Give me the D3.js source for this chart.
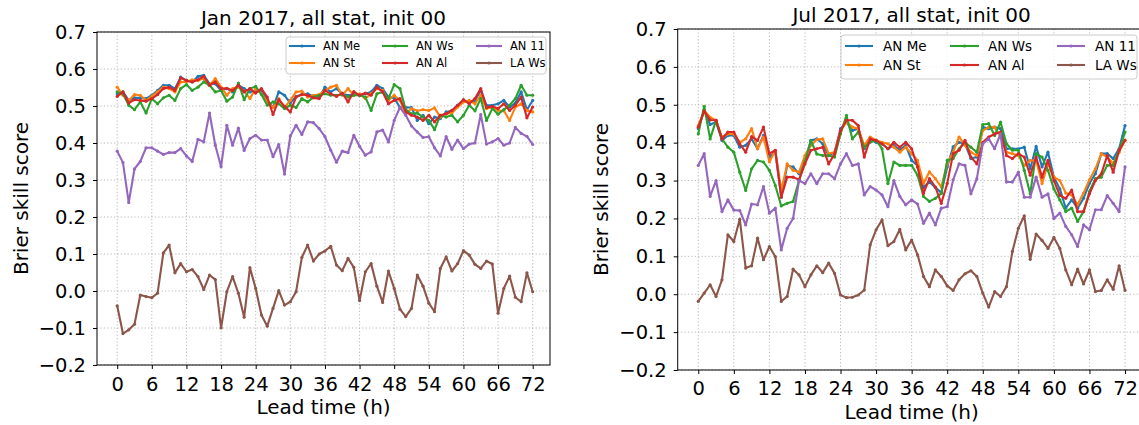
<!DOCTYPE html>
<html><head><meta charset="utf-8">
<script src="https://cdnjs.cloudflare.com/ajax/libs/d3/7.8.5/d3.min.js"></script>
<style>body{margin:0;background:#fff;} svg{display:block;font-family:"DejaVu Sans",sans-serif;}</style>
</head><body><svg id="c" width="1139" height="425"></svg>
<script>
// ---------------- data ----------------
const leadTimes = [0,1,2,3,4,5,6,7,8,9,10,11,12,13,14,15,16,17,18,19,20,21,22,23,24,25,26,27,28,29,30,31,32,33,34,35,36,37,38,39,40,41,42,43,44,45,46,47,48,49,50,51,52,53,54,55,56,57,58,59,60,61,62,63,64,65,66,67,68,69,70,71,72];
const seriesNames = ["AN Me","AN St","AN Ws","AN Al","AN 11","LA Ws"];
const seriesColors = ["#1f77b4","#ff7f0e","#2ca02c","#d62728","#9467bd","#8c564b"];
const xTicks = [0,6,12,18,24,30,36,42,48,54,60,66,72];
const yTicks = [-0.2,-0.1,0.0,0.1,0.2,0.3,0.4,0.5,0.6,0.7];
const titles = ["Jan 2017, all stat, init 00","Jul 2017, all stat, init 00"];
const xLabel = "Lead time (h)";
const yLabel = "Brier skill score";

// January
const janMe = [0.533,0.538,0.515,0.522,0.522,0.52,0.529,0.542,0.556,0.556,0.547,0.578,0.569,0.565,0.58,0.583,0.56,0.56,0.542,0.547,0.538,0.556,0.547,0.538,0.542,0.542,0.515,0.496,0.538,0.529,0.508,0.526,0.531,0.533,0.526,0.522,0.551,0.538,0.547,0.533,0.529,0.531,0.529,0.533,0.538,0.556,0.547,0.524,0.522,0.496,0.496,0.496,0.461,0.475,0.452,0.47,0.466,0.484,0.487,0.502,0.515,0.511,0.515,0.542,0.502,0.502,0.506,0.515,0.497,0.508,0.538,0.49,0.515];
const janSt = [0.551,0.529,0.515,0.531,0.529,0.515,0.526,0.538,0.551,0.547,0.538,0.565,0.565,0.571,0.569,0.574,0.556,0.574,0.551,0.529,0.547,0.551,0.54,0.52,0.547,0.533,0.511,0.496,0.52,0.496,0.515,0.538,0.54,0.524,0.529,0.531,0.542,0.551,0.556,0.529,0.547,0.529,0.533,0.52,0.533,0.547,0.542,0.515,0.529,0.515,0.479,0.493,0.487,0.49,0.488,0.495,0.47,0.479,0.481,0.497,0.511,0.515,0.506,0.529,0.493,0.496,0.488,0.487,0.461,0.497,0.506,0.488,0.484];
const janWs = [0.538,0.533,0.502,0.49,0.511,0.481,0.52,0.506,0.522,0.529,0.515,0.547,0.558,0.542,0.551,0.565,0.556,0.538,0.542,0.513,0.524,0.562,0.517,0.547,0.553,0.531,0.502,0.511,0.506,0.493,0.502,0.496,0.52,0.511,0.524,0.529,0.533,0.529,0.529,0.531,0.524,0.529,0.529,0.524,0.488,0.533,0.538,0.52,0.558,0.547,0.49,0.479,0.481,0.47,0.461,0.436,0.475,0.47,0.475,0.457,0.475,0.502,0.487,0.52,0.461,0.493,0.478,0.49,0.502,0.52,0.556,0.529,0.529];
const janAl = [0.526,0.538,0.508,0.517,0.515,0.513,0.52,0.531,0.547,0.551,0.542,0.576,0.569,0.565,0.571,0.58,0.556,0.565,0.547,0.548,0.542,0.556,0.538,0.547,0.535,0.547,0.524,0.477,0.517,0.499,0.484,0.524,0.531,0.529,0.522,0.52,0.542,0.533,0.526,0.535,0.511,0.539,0.529,0.535,0.529,0.551,0.538,0.506,0.515,0.52,0.484,0.475,0.47,0.461,0.475,0.457,0.475,0.479,0.488,0.502,0.517,0.506,0.52,0.547,0.496,0.499,0.493,0.506,0.488,0.502,0.524,0.468,0.497];
const jan11 = [0.378,0.347,0.239,0.33,0.35,0.387,0.387,0.378,0.369,0.374,0.374,0.385,0.365,0.35,0.41,0.403,0.481,0.394,0.336,0.448,0.394,0.44,0.38,0.412,0.421,0.408,0.408,0.363,0.396,0.316,0.419,0.448,0.423,0.457,0.455,0.439,0.417,0.381,0.348,0.378,0.374,0.421,0.391,0.367,0.376,0.43,0.435,0.403,0.461,0.496,0.475,0.446,0.43,0.415,0.417,0.387,0.365,0.417,0.383,0.408,0.385,0.397,0.4,0.477,0.397,0.403,0.412,0.394,0.4,0.442,0.426,0.418,0.396];
const janLA = [-0.04,-0.115,-0.105,-0.09,-0.011,-0.015,-0.018,-0.006,0.103,0.124,0.049,0.074,0.052,0.058,0.039,0.004,0.043,0.031,-0.1,-0.002,0.039,-0.006,-0.071,0.063,0.007,-0.065,-0.095,-0.047,0.001,-0.038,-0.029,-0.002,0.091,0.124,0.081,0.1,0.108,0.121,0.07,0.055,0.088,0.064,-0.026,0.052,0.074,0.013,-0.031,0.054,0.007,-0.049,-0.069,-0.047,0.043,0.013,-0.033,-0.056,0.061,0.092,0.054,0.074,0.109,0.097,0.072,0.061,0.081,0.073,-0.06,0.007,0.04,-0.017,-0.029,0.049,-0.002];

// July
const julMe = [0.437,0.485,0.448,0.454,0.406,0.419,0.419,0.388,0.393,0.41,0.384,0.419,0.362,0.375,0.256,0.34,0.336,0.318,0.353,0.406,0.41,0.397,0.366,0.375,0.437,0.454,0.432,0.437,0.384,0.41,0.401,0.397,0.384,0.393,0.38,0.393,0.353,0.34,0.282,0.296,0.282,0.268,0.336,0.389,0.401,0.397,0.358,0.362,0.441,0.437,0.441,0.437,0.384,0.384,0.384,0.388,0.331,0.39,0.336,0.375,0.309,0.278,0.227,0.249,0.227,0.253,0.293,0.318,0.371,0.371,0.358,0.384,0.445];
const julSt = [0.445,0.485,0.467,0.459,0.415,0.423,0.423,0.401,0.41,0.437,0.384,0.415,0.349,0.38,0.274,0.344,0.327,0.322,0.366,0.393,0.408,0.41,0.371,0.375,0.432,0.454,0.441,0.437,0.393,0.415,0.406,0.401,0.397,0.388,0.375,0.388,0.371,0.353,0.292,0.323,0.305,0.283,0.345,0.375,0.415,0.393,0.375,0.366,0.432,0.441,0.441,0.415,0.375,0.371,0.366,0.34,0.353,0.353,0.292,0.345,0.309,0.3,0.267,0.262,0.236,0.267,0.302,0.331,0.371,0.362,0.345,0.375,0.406];
const julWs = [0.423,0.496,0.41,0.459,0.41,0.388,0.375,0.322,0.274,0.331,0.353,0.349,0.327,0.287,0.233,0.24,0.245,0.3,0.35,0.405,0.37,0.366,0.366,0.362,0.423,0.472,0.41,0.428,0.388,0.401,0.406,0.384,0.292,0.349,0.34,0.34,0.34,0.314,0.258,0.245,0.253,0.266,0.353,0.358,0.384,0.401,0.388,0.375,0.448,0.45,0.419,0.454,0.397,0.38,0.38,0.327,0.265,0.371,0.362,0.327,0.278,0.249,0.218,0.227,0.192,0.218,0.271,0.305,0.309,0.34,0.34,0.38,0.428];
const julAl = [0.441,0.483,0.46,0.459,0.41,0.428,0.428,0.397,0.375,0.416,0.406,0.441,0.371,0.38,0.256,0.309,0.309,0.302,0.344,0.38,0.384,0.388,0.344,0.371,0.432,0.459,0.459,0.445,0.362,0.41,0.406,0.397,0.384,0.401,0.388,0.401,0.384,0.336,0.266,0.305,0.283,0.24,0.292,0.371,0.38,0.406,0.362,0.344,0.401,0.415,0.423,0.428,0.366,0.358,0.371,0.362,0.314,0.362,0.309,0.353,0.3,0.261,0.253,0.275,0.218,0.218,0.265,0.3,0.318,0.366,0.322,0.38,0.406];
const jul11 = [0.34,0.371,0.258,0.3,0.218,0.249,0.222,0.221,0.183,0.238,0.236,0.284,0.214,0.227,0.117,0.174,0.2,0.3,0.292,0.318,0.292,0.318,0.318,0.305,0.344,0.371,0.34,0.344,0.262,0.284,0.275,0.262,0.231,0.3,0.258,0.236,0.249,0.238,0.187,0.214,0.183,0.227,0.231,0.302,0.344,0.34,0.265,0.305,0.397,0.41,0.384,0.423,0.296,0.296,0.322,0.256,0.256,0.309,0.256,0.265,0.2,0.214,0.179,0.157,0.126,0.183,0.17,0.223,0.223,0.26,0.24,0.218,0.336];
const julLA = [-0.019,0.003,0.025,-0.006,0.038,0.157,0.139,0.198,0.069,0.075,0.148,0.091,0.126,0.099,-0.019,-0.006,0.066,0.051,0.02,0.051,0.075,0.057,0.082,0.055,-0.002,-0.009,-0.008,-0.002,0.011,0.13,0.17,0.196,0.128,0.139,0.171,0.117,0.143,0.104,0.047,0.02,0.064,0.047,0.022,0.01,0.038,0.054,0.062,0.047,0.003,-0.034,0.007,-0.006,0.02,0.113,0.174,0.207,0.092,0.159,0.142,0.121,0.15,0.121,0.064,0.025,0.066,0.027,0.064,0.007,0.01,0.038,0.013,0.075,0.01];

// ---------------- layout ----------------
const panels = [
  { series:[janMe,janSt,janWs,janAl,jan11,janLA], title:titles[0],
    left:97, right:550, top:32, bottom:365, xdom:[-3.5,75.0],
    tickFont:19.5, labelFont:20, titleY:25, xTickY:391, xLabelY:414, yLabelX:27.5, tickGapY:11,
    leg:{x0:286,x1:546,y0:37,y1:74,rows:[46,63],cols:[[289,315,323],[382,408,416],[476,502,510]],font:11.5} },
  { series:[julMe,julSt,julWs,julAl,jul11,julLA], title:titles[1],
    left:677.7, right:1145.6, top:29, bottom:370, xdom:[-3.47,75.47],
    tickFont:19.5, labelFont:20, titleY:22, xTickY:395, xLabelY:419, yLabelX:608, tickGapY:11,
    leg:{x0:841,x1:1137,y0:35,y1:79,rows:[46,65],cols:[[845,873,883],[950,979,988],[1057,1085,1095]],font:13.5} }
];

const svg = d3.select("#c");
const fmt = v => d3.format(".1f")(v).replace("-", "\u2212");

panels.forEach(p => {
  const x = d3.scaleLinear().domain(p.xdom).range([p.left, p.right]);
  const y = d3.scaleLinear().domain([-0.2, 0.7]).range([p.bottom, p.top]);
  const g = svg.append("g");

  // grid
  const grid = g.append("g").attr("stroke", "#b0b0b0").attr("stroke-width", 0.9).attr("stroke-dasharray", "1.2,2.2");
  xTicks.forEach(t => grid.append("line").attr("x1", x(t)).attr("x2", x(t)).attr("y1", p.top).attr("y2", p.bottom));
  yTicks.forEach(t => grid.append("line").attr("x1", p.left).attr("x2", p.right).attr("y1", y(t)).attr("y2", y(t)));

  // series
  const line = d3.line().x((d, i) => x(leadTimes[i])).y(d => y(d));
  p.series.forEach((s, k) => {
    g.append("path").datum(s).attr("d", line).attr("fill", "none")
      .attr("stroke", seriesColors[k]).attr("stroke-width", 2.1).attr("stroke-linejoin", "round");
    g.append("g").selectAll("circle").data(s).join("circle")
      .attr("cx", (d, i) => x(leadTimes[i])).attr("cy", d => y(d)).attr("r", 1.6)
      .attr("fill", seriesColors[k]);
  });

  // frame
  g.append("rect").attr("x", p.left).attr("y", p.top).attr("width", p.right - p.left).attr("height", p.bottom - p.top)
    .attr("fill", "none").attr("stroke", "#000").attr("stroke-width", 1);

  // axes
  const ax = g.append("g").attr("transform", `translate(0,${p.bottom})`)
    .call(d3.axisBottom(x).tickValues(xTicks).tickSize(4).tickFormat(d3.format("d")));
  ax.select(".domain").remove();
  ax.selectAll("line").attr("stroke", "#000");
  ax.selectAll("text").attr("font-size", p.tickFont).attr("fill", "#000").attr("font-family", "DejaVu Sans")
    .attr("dy", null).attr("y", p.xTickY - p.bottom);

  const ay = g.append("g").attr("transform", `translate(${p.left},0)`)
    .call(d3.axisLeft(y).tickValues(yTicks).tickSize(4).tickPadding(p.tickGapY - 4).tickFormat(fmt));
  ay.select(".domain").remove();
  ay.selectAll("line").attr("stroke", "#000");
  ay.selectAll("text").attr("font-size", p.tickFont).attr("fill", "#000").attr("font-family", "DejaVu Sans");

  // labels
  g.append("text").attr("x", (p.left + p.right) / 2).attr("y", p.titleY).attr("text-anchor", "middle")
    .attr("font-size", 20).attr("fill", "#000").text(p.title);
  g.append("text").attr("x", (p.left + Math.min(p.right, 1139 + 0)) / 2 + (p.right > 1139 ? (p.right - 1139) / 2 : 0))
    .attr("y", p.xLabelY).attr("text-anchor", "middle").attr("font-size", p.labelFont).attr("fill", "#000").text(xLabel);
  g.append("text").attr("transform", `translate(${p.yLabelX},${(p.top + p.bottom) / 2}) rotate(-90)`)
    .attr("text-anchor", "middle").attr("font-size", p.labelFont).attr("fill", "#000").text(yLabel);

  // legend
  const L = p.leg;
  const lg = g.append("g");
  lg.append("rect").attr("x", L.x0).attr("y", L.y0).attr("width", L.x1 - L.x0).attr("height", L.y1 - L.y0)
    .attr("rx", 3).attr("fill", "#fff").attr("fill-opacity", 0.8).attr("stroke", "#cccccc").attr("stroke-width", 1);
  seriesNames.forEach((name, k) => {
    const col = Math.floor(k / 2), row = k % 2;
    const [a, b, tx] = L.cols[col];
    const yy = L.rows[row];
    lg.append("line").attr("x1", a).attr("x2", b).attr("y1", yy).attr("y2", yy)
      .attr("stroke", seriesColors[k]).attr("stroke-width", 2.1);
    lg.append("circle").attr("cx", (a + b) / 2).attr("cy", yy).attr("r", 1.6).attr("fill", seriesColors[k]);
    lg.append("text").attr("x", tx).attr("y", yy).attr("dy", "0.36em").attr("font-size", L.font)
      .attr("fill", "#000").text(name);
  });
});
</script></body></html>
